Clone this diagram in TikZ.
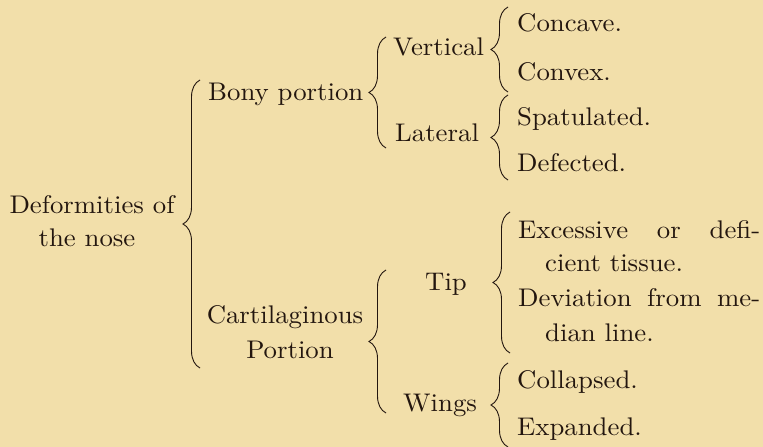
\documentclass[tikz,border=0pt]{standalone}
\usepackage{fontspec}
\setmainfont{lmroman10-regular.otf}[FakeStretch=1.05]
\usepackage{tikz}
\usetikzlibrary{decorations.pathreplacing,positioning}
\definecolor{paper}{RGB}{242,223,170}
\definecolor{ink}{RGB}{35,22,15}

\begin{document}
\begin{tikzpicture}[x=1pt, y=-1pt,
		word/.style={anchor=base west, inner sep=0pt, text=ink, font=\fontsize{25.5}{33}\selectfont},
		bracket/.style={draw=ink, line width=0.9pt, decorate, decoration={brace, amplitude=17pt}}]
		% 纸张底色, 大小 763 * 447
		\fill[paper] (0, 0) rectangle (763, 447);
		\useasboundingbox (0, 0) rectangle (763, 447);
		% 最左边的总标题
		\node[word, anchor = base] (deform) at (92, 213) {Deformities of};
		\node[word, anchor = base] (nose) at (87, 246) {the nose};
		% 第二层: 骨部和软骨部
		\node[word] (bony) at (208, 100) {Bony portion};
		\node[word, anchor = base] (cart) at (285, 323) {Cartilaginous};
		\node[word, anchor = base] (portion) at (290, 358) {Portion};
		% 第三层
		\node[word] (vert) at (393, 55) {Vertical};
		\node[word] (lat) at (395, 141) {Lateral};
		\node[word] (tip) at (425, 290) {Tip};
		\node[word] (wings) at (403, 411) {Wings};
		% 最右边的一列
		\foreach \nm/\yy/\txt in {concave/31/Concave., convex/80/Convex., spat/125/Spatulated., defect/171/Defected., collapse/388/Collapsed., expand/435/Expanded.} {
				\node[word] (\nm) at (517, \yy) {\txt};
			}
		% 两行的条目, 用 s 把字距拉开
		\node[word] (excess) at (518, 238) {\makebox[242pt][s]{Excessive or defi-}};
		\node[word] (excess2) at (545, 271) {cient tissue.};
		\node[word] (deviat) at (518, 306) {\makebox[242pt][s]{Deviation from me-}};
		\node[word] (deviat2) at (545, 341) {dian line.};
		% 花括号: 名字 / x / 上端 / 下端
		\foreach \nm/\x/\top/\bot in {main/200/80/368, bonyb/386/37/148, cartb/386/270/413, vertb/508/7/92, latb/508/95/180, tipb/510/212/353, wingsb/508/363/447} {
				\coordinate (\nm-t) at (\x, \top);
				\coordinate (\nm-b) at (\x, \bot);
				\draw[bracket] (\nm-b) -- (\nm-t);
			}
	\end{tikzpicture}
\end{document}
